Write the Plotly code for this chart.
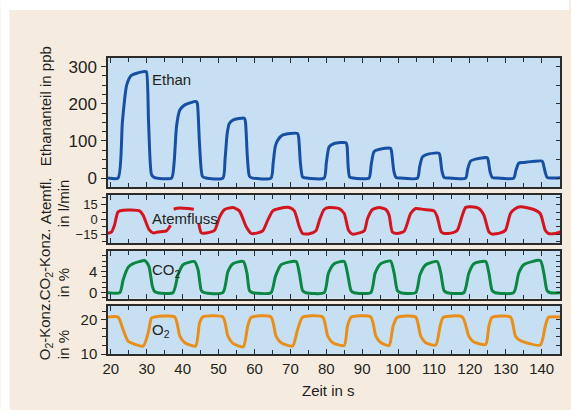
import plotly.graph_objects as go

# ---------------- data ----------------
eth_t = [19.2, 22.0, 23.2, 24.4, 25.7, 27.5, 29.4, 29.9, 30.5, 31.3, 32.0,
         36.9, 37.6, 38.3, 39.2, 40.6, 43.8, 44.1, 44.7, 45.5, 46.5,
         51.2, 51.8, 52.4, 53.0, 54.0, 57.2, 57.5, 58.0, 58.6, 59.5,
         64.6, 65.2, 65.8, 66.5, 67.9, 72.0, 72.3, 72.8, 73.4, 74.5,
         79.4, 80.0, 80.8, 82.2, 85.5, 85.8, 86.1, 86.5, 87.5,
         91.9, 92.5, 93.3, 95.2, 97.9, 98.2, 98.8, 99.4, 100.5,
         105.4, 106.0, 106.8, 108.6, 111.4, 111.7, 112.2, 112.8, 114.0,
         118.8, 119.4, 120.2, 121.6, 124.8, 125.1, 125.6, 126.2, 127.5,
         132.2, 132.8, 133.6, 135.0, 140.1, 140.4, 141.0, 141.5, 142.5, 145.2]
eth_v = [0, 0, 150, 250, 276, 283, 287, 286, 150, 10, 2,
         0, 40, 140, 183, 197, 206, 200, 90, 5, 0,
         0, 50, 120, 147, 156, 161, 150, 60, 5, 0,
         0, 40, 85, 102, 116, 120, 110, 40, 3, 0,
         0, 40, 84, 93, 95, 85, 30, 3, 0,
         0, 35, 71, 78, 80, 70, 20, 2, 0,
         0, 30, 57, 65, 67, 58, 20, 2, 0,
         0, 25, 46, 51, 55, 48, 18, 2, 0,
         0, 20, 40, 42, 46, 40, 15, 2, 0, 1]

flow_t = [19.0, 20.2, 21.0, 22.0, 23.4, 28.0, 29.0, 30.6, 31.8, 33.1, 35.5, 36.1, 36.6, None,
          37.5, 38.5, 41.5, 43.1, None,
          44.5, 45.2, 46.6, 48.9, 50.3, 51.7, 54.0, 55.8, 57.7, 59.1, 60.9,
          62.3, 63.7, 65.1, 66.9, 69.7, 71.1, 72.5, 73.4, 75.3, 77.1,
          78.1, 79.4, 80.8, 83.6, 85.0, 86.2, 87.3, 89.2, 90.6,
          91.5, 92.9, 94.7, 96.6, 97.5, 98.4, 99.8, 101.7,
          103.5, 104.9, 107.2, 110.0, 110.9, 112.0, 112.8, 115.1, 116.5,
          117.9, 118.8, 120.2, 122.5, 123.9, 125.3, 126.2, 128.5, 129.9,
          131.3, 132.7, 134.1, 137.8, 139.6, 141.0, 141.9, 143.8, 145.2]
flow_v = [-14.3, -12.7, -6, 7.8, 9.5, 8.8, 4.4, -10, -13.7, -12.7, -11.6, -9, -5.8, None,
          10.5, 11.5, 11.2, 10.5, None,
          -4, -13.7, -13.7, -11, 2.7, 10.2, 12.2, 8.8, -7.5, -14.3, -13.7,
          -11.6, -0.7, 8.8, 11.2, 12.2, 8.8, -7.5, -14.3, -14.6, -11.6,
          -0.7, 10.2, 12.2, 11.2, 6.1, -11, -14.9, -13.7, -11.6,
          1, 10.2, 12.2, 10.2, 4.4, -12.7, -14.3, -12,
          6.1, 11.2, 10.2, 8.8, 2.7, -12.7, -14.3, -13.7, -11,
          4.4, 12.2, 12.9, 11.2, 4.4, -12.7, -14.9, -13.7, -11,
          6.1, 11.2, 12.9, 10.2, 6.1, -11, -14.3, -14.3, -12.7]

co2_t = [19.0, 22.5, 23.4, 24.8, 26.2, 29.4, 29.9, 30.6, 31.6, 32.2, 33.0,
         37.3, 38.7, 40.1, 43.3, 44.3, 45.2, 46.0,
         51.2, 52.6, 54.0, 56.9, 57.9, 58.6, 59.5,
         64.6, 65.8, 67.4, 71.6, 72.5, 73.4, 74.3,
         79.4, 80.6, 82.2, 85.0, 85.9, 86.9, 87.8,
         92.4, 93.6, 95.2, 97.9, 98.9, 99.8, 100.7,
         104.9, 106.1, 107.7, 110.9, 111.9, 112.8, 113.7,
         118.3, 119.7, 121.1, 124.4, 125.3, 126.2, 127.1,
         132.2, 133.6, 135.0, 139.6, 140.6, 141.5, 142.4, 145.2]
co2_v = [0, 0, 2.4, 4.8, 5.5, 6.1, 5.8, 5.0, 1.1, 0.2, 0,
         0, 3.4, 5.3, 5.9, 4.3, 0.4, 0,
         0, 4.0, 5.5, 5.9, 3.7, 0.4, 0,
         0, 3.0, 5.3, 5.9, 3.7, 0.4, 0,
         0, 3.7, 5.5, 5.9, 3.7, 0.4, 0,
         0, 3.7, 5.5, 6.0, 3.7, 0.4, 0,
         0, 3.4, 5.3, 5.9, 3.7, 0.4, 0,
         0, 3.7, 5.5, 5.9, 3.7, 0.4, 0,
         0, 3.7, 5.3, 6.1, 3.7, 0.4, 0, 0]

o2_t = [19.0, 22.0, 23.4, 24.8, 26.2, 29.0, 30.4, 31.3, 32.2,
        37.8, 39.2, 40.6, 43.6, 44.7, 45.6,
        51.2, 52.6, 54.0, 56.9, 58.1, 59.1,
        64.6, 66.0, 67.4, 70.6, 72.0, 73.4,
        79.0, 80.4, 81.8, 85.0, 85.9, 86.9,
        92.4, 93.8, 95.2, 97.5, 98.6, 99.8,
        104.9, 106.3, 107.7, 110.5, 111.7, 112.6,
        117.9, 119.7, 121.1, 124.4, 125.3, 126.2,
        131.3, 132.7, 134.1, 139.6, 141.0, 141.9, 145.2]
o2_v = [20.8, 20.8, 17.1, 13.7, 13.0, 12.3, 16.2, 20.5, 20.8,
        20.8, 15.2, 13.3, 12.3, 19.0, 20.8,
        20.8, 15.2, 13.1, 12.1, 18.1, 20.7,
        20.8, 15.2, 13.3, 12.3, 17.1, 20.7,
        20.8, 15.2, 13.3, 12.5, 18.1, 20.7,
        20.8, 15.2, 13.3, 12.5, 18.1, 20.7,
        20.8, 15.2, 13.3, 12.6, 18.1, 20.7,
        20.8, 15.2, 13.5, 12.8, 18.1, 20.7,
        20.8, 15.2, 13.9, 12.6, 18.1, 20.7, 20.8]

x_ticks = [20, 30, 40, 50, 60, 70, 80, 90, 100, 110, 120, 130, 140]

# ---------------- styling ----------------
W, H = 571, 410
ML, MR, MT, MB = 108, 9, 58, 56
PW, PH = W - ML - MR, H - MT - MB
FONT = "Liberation Sans, Arial, sans-serif"
TXT = "#231F20"
AX = "#2b2b2b"
PLOT_BG = "#C7DFF2"
PAPER_BG = "#F5ECDF"


def py(p):  # pixel y -> paper
    return (MT + PH - p) / PH


def px(p):  # pixel x -> paper
    return (p - ML) / PW


panels = [
    dict(t=eth_t, v=eth_v, color="#1750A3", dom=[py(187), 1.0], rng=[-24, 323],
         major=100, minor=25, rdt=50, fs=17),
    dict(t=flow_t, v=flow_v, color="#D2151F", dom=[py(243), py(195)], rng=[-24, 25],
         major=15, minor=7.5, rdt=7.5, fs=13),
    dict(t=co2_t, v=co2_v, color="#0B8743", dom=[py(298.5), py(251)], rng=[-1.1, 7.9],
         major=4, minor=1, rdt=1, fs=15),
    dict(t=o2_t, v=o2_v, color="#E88F1B", dom=[0.0, py(306)], rng=[10, 24],
         major=10, minor=2.5, rdt=2.5, fs=15),
]

fig = go.Figure()
layout = {}
for i, p in enumerate(panels, start=1):
    xa = "x" if i == 1 else f"x{i}"
    ya = "y" if i == 1 else f"y{i}"
    fig.add_trace(go.Scatter(x=p["t"], y=p["v"], mode="lines", xaxis=xa, yaxis=ya,
                             line=dict(color=p["color"], width=3, shape="spline", smoothing=0.6),
                             connectgaps=False, showlegend=False, hoverinfo="skip"))
    # right-side inside ticks via an overlaying axis
    ry = f"y{i + 4}"
    fig.add_trace(go.Scatter(x=[None], y=[None], mode="lines", xaxis=xa, yaxis=ry,
                             showlegend=False, hoverinfo="skip"))
    xkey = "xaxis" if i == 1 else f"xaxis{i}"
    ykey = "yaxis" if i == 1 else f"yaxis{i}"
    layout[xkey] = dict(
        domain=[0, 1], anchor=ya, range=[19.2, 145.1],
        tickmode="array", tickvals=x_ticks, ticktext=[str(v) for v in x_ticks],
        ticks="inside", ticklen=5, tickwidth=1.3, tickcolor=AX,
        minor=dict(dtick=5, tick0=0, ticks="inside", ticklen=4, tickwidth=1.1, tickcolor=AX),
        mirror="ticks", showline=True, linecolor=AX, linewidth=1.5,
        showgrid=False, zeroline=False,
        showticklabels=(i == 4),
        tickfont=dict(family=FONT, size=15, color=TXT),
        matches=None if i == 1 else "x",
    )
    layout[ykey] = dict(
        domain=p["dom"], anchor=xa, range=p["rng"],
        dtick=p["major"], tick0=0,
        ticks="outside", ticklen=5, tickwidth=1.3, tickcolor=AX,
        minor=dict(dtick=p["minor"], tick0=0, ticks="outside", ticklen=4, tickwidth=1.1, tickcolor=AX),
        showline=True, mirror=True, linecolor=AX, linewidth=1.5,
        showgrid=False, zeroline=False,
        tickfont=dict(family=FONT, size=p["fs"], color=TXT),
        ticklabelstandoff=1,
    )
    layout[f"yaxis{i + 4}"] = dict(
        overlaying=ya, side="right", anchor=xa, range=p["rng"],
        dtick=p["rdt"], tick0=0, ticks="inside", ticklen=4, tickwidth=1.1, tickcolor=AX,
        showticklabels=False, showline=False, showgrid=False, zeroline=False,
    )

ann_font = dict(family=FONT, size=15, color=TXT)
annotations = [
    # in-panel labels
    dict(text="Ethan", x=30.8, y=264, xref="x", yref="y", xanchor="left", yanchor="middle",
         showarrow=False, font=ann_font),
    dict(text="Atemfluss", x=30.8, y=1.3, xref="x2", yref="y2", xanchor="left", yanchor="middle",
         showarrow=False, font=ann_font),
    dict(text="CO<sub>2</sub>", x=30.8, y=4.3, xref="x3", yref="y3", xanchor="left", yanchor="middle",
         showarrow=False, font=ann_font),
    dict(text="O<sub>2</sub>", x=30.8, y=16.8, xref="x4", yref="y4", xanchor="left", yanchor="middle",
         showarrow=False, font=ann_font),
    # axis titles
    dict(text="Zeit in s", x=px(329), y=py(390), xref="paper", yref="paper",
         xanchor="center", yanchor="middle", showarrow=False, font=ann_font),
    dict(text="Ethananteil in ppb", x=px(45), y=py(106), xref="paper", yref="paper",
         textangle=-90, xanchor="center", yanchor="middle", showarrow=False, font=ann_font),
    dict(text="Atemfl.", x=px(45), y=py(201), xref="paper", yref="paper",
         textangle=-90, xanchor="center", yanchor="middle", showarrow=False, font=ann_font),
    dict(text="in l/min", x=px(63), y=py(203), xref="paper", yref="paper",
         textangle=-90, xanchor="center", yanchor="middle", showarrow=False, font=ann_font),
    dict(text="CO<sub>2</sub>-Konz.", x=px(45), y=py(264), xref="paper", yref="paper",
         textangle=-90, xanchor="center", yanchor="middle", showarrow=False, font=ann_font),
    dict(text="in %", x=px(63), y=py(283), xref="paper", yref="paper",
         textangle=-90, xanchor="center", yanchor="middle", showarrow=False, font=ann_font),
    dict(text="O<sub>2</sub>-Konz.", x=px(45), y=py(330), xref="paper", yref="paper",
         textangle=-90, xanchor="center", yanchor="middle", showarrow=False, font=ann_font),
    dict(text="in %", x=px(63), y=py(345), xref="paper", yref="paper",
         textangle=-90, xanchor="center", yanchor="middle", showarrow=False, font=ann_font),
]

shapes = [
    dict(type="rect", xref="paper", yref="paper", x0=px(0), x1=px(9), y0=py(H), y1=py(0),
         fillcolor="white", line=dict(width=0), layer="below"),
    dict(type="rect", xref="paper", yref="paper", x0=px(0), x1=px(W), y0=py(10), y1=py(0),
         fillcolor="white", line=dict(width=0), layer="below"),
]

fig.update_layout(
    width=W, height=H, autosize=False,
    margin=dict(l=ML, r=MR, t=MT, b=MB, pad=0),
    paper_bgcolor=PAPER_BG, plot_bgcolor=PLOT_BG,
    font=dict(family=FONT, color=TXT),
    annotations=annotations, shapes=shapes,
    showlegend=False,
    **layout,
)

fig.write_html("out.html")
